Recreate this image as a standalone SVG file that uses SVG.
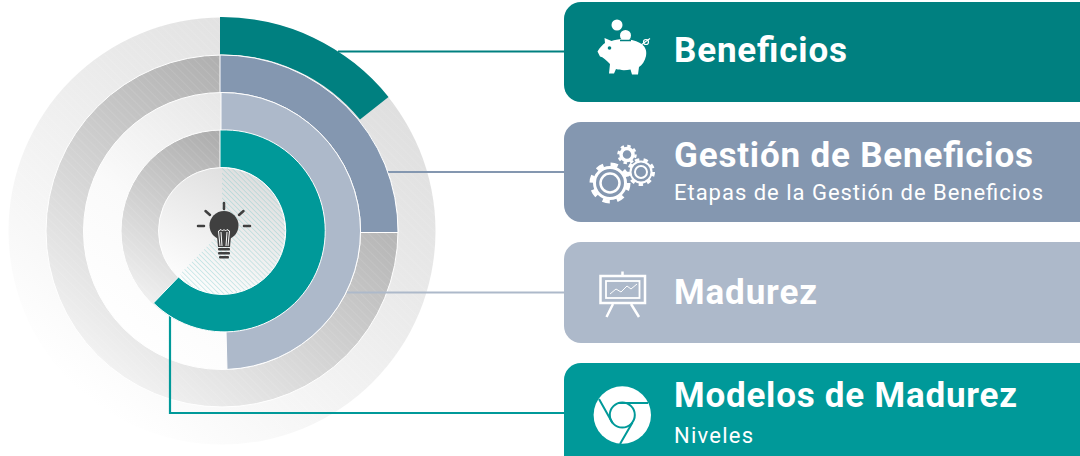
<svg xmlns="http://www.w3.org/2000/svg" width="1080" height="456" viewBox="0 0 1080 456">
<style>
.t{font-family:"Roboto","Liberation Sans",sans-serif;fill:#fff}
.h{font-size:35px;font-weight:700}
.s{font-size:22px;font-weight:400}
.ring{stroke:#fff;stroke-width:1}
.ic{fill:none;stroke:#fff}
.cn{fill:none;stroke-width:2.200}
</style>
<defs>
<linearGradient id="g1" gradientUnits="userSpaceOnUse" x1="90" y1="400" x2="360" y2="60"><stop offset="0" stop-color="#fff"/><stop offset="1" stop-color="#dedede"/></linearGradient>
<linearGradient id="g2" gradientUnits="userSpaceOnUse" x1="110" y1="370" x2="330" y2="90"><stop offset="0" stop-color="#f2f2f2"/><stop offset="1" stop-color="#a6a6a6"/></linearGradient>
<linearGradient id="g3" gradientUnits="userSpaceOnUse" x1="120" y1="340" x2="300" y2="110"><stop offset="0" stop-color="#fff"/><stop offset="0.4" stop-color="#fafafa"/><stop offset="1" stop-color="#e2e2e2"/></linearGradient>
<linearGradient id="g4" gradientUnits="userSpaceOnUse" x1="135" y1="300" x2="235" y2="130"><stop offset="0" stop-color="#f2f2f2"/><stop offset="1" stop-color="#a8a8a8"/></linearGradient>
<linearGradient id="g5" gradientUnits="userSpaceOnUse" x1="180" y1="290" x2="240" y2="168"><stop offset="0" stop-color="#fff"/><stop offset="1" stop-color="#dedede"/></linearGradient>
<pattern id="hw" width="6" height="6" patternUnits="userSpaceOnUse" patternTransform="rotate(45)"><rect width="6" height=".7" fill="#fff" fill-opacity=".13"/></pattern>
<pattern id="ht" width="3.500" height="3.500" patternUnits="userSpaceOnUse" patternTransform="rotate(45)"><rect width="3.500" height=".7" fill="#7fcaca" fill-opacity=".5"/></pattern>
</defs>
<g id="rings">
<circle cx="222" cy="231" r="213.5" fill="url(#g1)"/><circle cx="222" cy="231" r="213.5" fill="url(#hw)"/>
<circle cx="222" cy="231" r="176" fill="url(#g2)" class="ring"/><circle cx="222" cy="231" r="176" fill="url(#hw)"/>
<circle cx="222" cy="231" r="138.5" fill="url(#g3)" class="ring"/><circle cx="222" cy="231" r="138.5" fill="url(#hw)"/>
<circle cx="222" cy="231" r="101" fill="url(#g4)" class="ring"/><circle cx="222" cy="231" r="101" fill="url(#hw)"/>
<circle cx="222" cy="231" r="63.5" fill="url(#g5)" class="ring"/>
<path d="M222 167.5A63.5 63.5 0 0 1 222 294.5H192L180 274L222 231Z" fill="url(#ht)"/>
</g>
<g id="connectors">
<path class="cn" stroke="#008080" d="M338 51.500H564"/>
<path class="cn" stroke="#8497B0" d="M388 172H564"/>
<path class="cn" stroke="#ADB9CA" d="M347 292.500H564"/>
<path class="cn" stroke="#009999" d="M170 314V413H564"/>
</g>
<g id="arcs">
<path id="arc-beneficios" fill="#008080" d="M220 17A214 214 0 0 1 388.500 97L360 119.500A177 177 0 0 0 220 54.500Z"/>
<path id="arc-gestion" fill="#8497B0" class="ring" stroke-width=".8" d="M220 55A176 176 0 0 1 398 232.500H360.500A138.500 138.500 0 0 0 220 92.500Z"/>
<path id="arc-madurez" fill="#ADB9CA" class="ring" d="M221 92.500A138.500 138.500 0 0 1 360.500 231A138.500 138.500 0 0 1 227 369.400L226 331A100 100 0 0 0 322 231A100 100 0 0 0 221 131Z"/>
<path id="arc-modelos" fill="#009999" class="ring" d="M220 130A101 101 0 1 1 153.500 303L178.500 277A63.500 63.500 0 1 0 220 167.500Z"/>
</g>
<g id="bulb" fill="#404040">
<circle cx="224" cy="225.500" r="14.500"/>
<path d="M217 236H231L230 247H218Z"/>
<rect x="218" y="248" width="12" height="2.500" rx="1"/><rect x="218" y="252" width="12" height="2.500" rx="1"/><rect x="219" y="256" width="10" height="2.500" rx="1"/>
<path d="M224 203V209M205.500 211L210 215M243.500 211L239 215M198 226H204M244 226H250" stroke="#404040" stroke-width="2.500" stroke-linecap="round" fill="none"/>
<path d="M220 246L218.500 231L221 229.500L222.500 231L224 229.500L225.500 231L227 229.500L229.500 231L228 246M222 246L221 232M226 246L227 232" fill="none" stroke="#fff" stroke-width="1"/>
</g>
<g id="node-beneficios">
<rect x="564" y="2" width="560" height="100" rx="17" fill="#008080"/>
<g fill="#fff">
<circle cx="617" cy="25" r="5.500"/><circle cx="625.500" cy="35.500" r="5.500"/>
<path d="M597.500 51.500C600 47 603 44.500 605 43L604.500 38L611.500 41C618 38.500 632 38.500 640 43C645 46 647 50 646 56C645 61 642 65 639 67L638 74.500H632L630.500 69.500C626 70.500 620 70.500 616 69L614 73.500H609L610 64C606 60 603 57 600 56.500Z"/>
</g>
<circle cx="609.500" cy="48" r="1.800" fill="#008080"/>
<path d="M620 40.500H631" stroke="#008080" stroke-width="1.500"/>
<circle cx="646" cy="42" r="2.500" class="ic" stroke-width="1.200"/><path d="M641 45L650 38.500" class="ic" stroke-width="1.200"/>
<text class="t h" x="674" y="61.500" textLength="173">Beneficios</text>
</g>
<g id="node-gestion">
<rect x="564" y="122" width="560" height="100" rx="17" fill="#8497B0"/>
<g class="ic">
<circle cx="610" cy="183" r="18.500" stroke-width="4" stroke-dasharray="7.300 7.230"/>
<circle cx="610" cy="183" r="15.500" stroke-width="3"/><circle cx="610" cy="183" r="9.500" stroke-width="2.500"/>
<circle cx="641" cy="172" r="12.500" stroke-width="3" stroke-dasharray="4.400 4.330"/>
<circle cx="641" cy="172" r="10.500" stroke-width="2"/><circle cx="641" cy="172" r="6" stroke-width="2"/>
<circle cx="627" cy="154.500" r="8.500" stroke-width="2.500" stroke-dasharray="3.400 3.280"/>
<circle cx="627" cy="154.500" r="6" stroke-width="3.500"/>
</g>
<text class="t h" x="674" y="166.500" textLength="359">Gestión de Beneficios</text>
<text class="t s" x="674" y="199.500" textLength="369">Etapas de la Gestión de Beneficios</text>
</g>
<g id="node-madurez">
<rect x="564" y="242" width="560" height="101" rx="17" fill="#ADB9CA"/>
<g class="ic">
<rect x="600.500" y="276" width="44.500" height="27" stroke-width="2.500"/>
<rect x="606" y="281" width="33.500" height="17" stroke-width="1.800"/>
<path d="M610 294L616 289L621 292L627 286L631 289L637 284" stroke-width="1"/>
<path d="M613 304L606.500 317M631 304L639 317M622.500 271.500V275" stroke-width="2.500"/>
</g>
<text class="t h" x="674" y="303.500" textLength="143">Madurez</text>
</g>
<g id="node-modelos">
<rect x="564" y="363" width="560" height="110" rx="17" fill="#009999"/>
<circle cx="622.300" cy="415" r="28.700" fill="#fff"/>
<g fill="none" stroke="#009999" stroke-width="2">
<circle cx="622.300" cy="415" r="12.500"/>
<path d="M648 403H618M599 399L612.500 423M620 444L632.500 422.500"/>
</g>
<text class="t h" x="674" y="407" textLength="343">Modelos de Madurez</text>
<text class="t s" x="674" y="443" textLength="79">Niveles</text>
</g>
</svg>
